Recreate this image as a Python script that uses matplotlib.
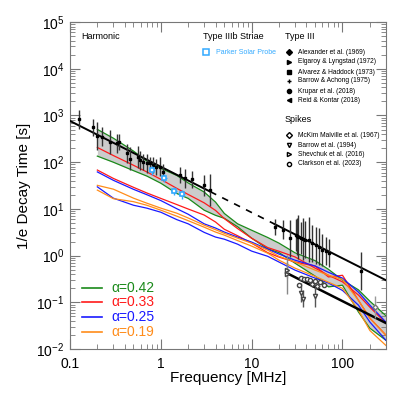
import numpy as np
import matplotlib.pyplot as plt
from matplotlib.ticker import LogLocator, NullFormatter, FuncFormatter, FixedLocator

plt.rcParams['font.family'] = ['Liberation Sans', 'DejaVu Sans']
plt.rcParams['mathtext.fontset'] = 'custom'
plt.rcParams['mathtext.rm'] = 'Liberation Sans'
plt.rcParams['mathtext.it'] = 'Liberation Sans:italic'

# simulated decay times (upper / lower bound for each alpha)
freq_model = [0.2, 0.3, 0.5, 0.7, 1, 1.5, 2, 3, 4, 5, 7, 10, 15, 20, 30, 50, 70, 100, 150, 200, 300]
green_hi = [504, 327, 173, 106, 74, 52, 36, 23, 14, 8.0, 4.8, 3.5, 2.45, 1.85, 1.15, 0.78, 0.51, 0.30, 0.185, 0.106, 0.052]
green_lo = [135, 100, 66, 50.6, 35.5, 21.4, 16.8, 9.4, 7.3, 6.3, 4.16, 2.36, 1.40, 1.16, 0.69, 0.364, 0.215, 0.233, 0.062, 0.028, 0.0155]
red_hi = [207, 139, 86, 62, 43, 27.5, 20.4, 13.5, 9.3, 6.2, 3.8, 2.36, 1.49, 1.24, 0.94, 0.54, 0.38, 0.275, 0.143, 0.079, 0.036]
red_lo = [68, 45, 29, 22, 16.8, 12.4, 9.96, 7.4, 5.25, 3.67, 2.67, 1.85, 1.16, 0.93, 0.73, 0.60, 0.35, 0.38, 0.11, 0.046, 0.02]
blue_hi = [62, 41, 26.3, 20.2, 15.1, 10.1, 7.7, 4.8, 3.9, 3.2, 2.5, 1.95, 1.38, 1.08, 0.80, 0.60, 0.44, 0.33, 0.165, 0.087, 0.038]
blue_lo = [29.7, 17, 12, 10.4, 8.5, 5.9, 4.8, 3.15, 2.5, 2.25, 1.76, 1.25, 0.97, 0.73, 0.49, 0.33, 0.26, 0.18, 0.087, 0.038, 0.0155]
orange_hi = [32, 26.5, 17, 13.3, 10.4, 8.1, 6.4, 4.5, 3.6, 3.0, 2.37, 1.85, 1.31, 0.97, 0.73, 0.49, 0.38, 0.31, 0.11, 0.046, 0.02]
orange_lo = [25.3, 16.6, 14.3, 12, 9.4, 7.0, 5.6, 4.07, 3.2, 2.75, 2.1, 1.6, 1.13, 0.80, 0.54, 0.36, 0.27, 0.20, 0.068, 0.025, 0.012]

alpha_labels = ['α=0.42', 'α=0.33', 'α=0.25', 'α=0.19']
alpha_colors = ['#1a8a1a', '#ff1a1a', '#1a1aff', '#ff8c1a']

# Type III observations (low and high frequency)
t3_freq = [0.126, 0.178, 0.198, 0.226, 0.275, 0.326, 0.348, 0.420, 0.456, 0.563, 0.588, 0.638,
           0.697, 0.757, 0.822, 0.894, 0.977, 1.06, 1.62, 1.84, 2.22, 2.97, 3.48]
t3_time = [838, 556, 362, 350, 274, 253, 274, 154, 120, 131, 111, 102,
           94, 94, 87, 80, 80, 62, 53, 45, 43, 32, 25.3]
t3_err = [1.6, 1.5, 2.0, 1.6, 1.8, 1.6, 1.5, 1.6, 1.8, 1.7, 1.6, 1.5,
          1.6, 1.4, 1.5, 1.5, 1.6, 1.5, 1.5, 1.6, 1.5, 1.7, 2.2]
t3h_freq = [18.0, 21.9, 26.2, 30.4, 31.5, 32.6, 34.5, 36.5, 39.0, 42.6, 46.4, 50.7, 55.0, 59.8, 65.1, 70.7, 158]
t3h_time = [4.1, 3.6, 2.33, 2.75, 2.6, 2.5, 2.37, 2.26, 2.2, 2.2, 1.82, 1.68, 1.54, 1.31, 1.27, 1.15, 0.47]
t3h_err = [1.5, 1.6, 2.5, 2.2, 2.5, 3.0, 2.2, 2.8, 2.5, 3.0, 2.5, 2.5, 2.5, 2.2, 2.0, 2.0, 2.6]
elg_freq = [230]
elg_time = [0.08]

# Parker Solar Probe striae
psp_freq = [0.80, 1.09, 1.40, 1.69]
psp_time = [67.6, 46, 24.4, 20.7]

# spikes
shev_freq = [24.3, 24.8]
shev_time = [0.49, 0.40]
clark_freq = [33, 34.6, 37.5, 40.5, 43.9, 50, 56, 63]
clark_time = [0.23, 0.34, 0.32, 0.31, 0.30, 0.28, 0.27, 0.23]
barrow_freq = [34.6, 36.5, 49.5]
barrow_time = [0.16, 0.12, 0.14]
mckim_freq = [46, 52]
mckim_time = [0.25, 0.22]

# power law fits: t = amp * (f / f0)^index
fit3_amp, fit3_f0, fit3_idx = 80.0, 1.0, -0.98
fitsp_amp, fitsp_f0, fitsp_idx = 0.43, 24.0, -0.98

fig = plt.figure(figsize=(4.07, 3.94), dpi=100)
ax = fig.add_axes([0.172, 0.114, 0.776, 0.830])
ax.set_xscale('log')
ax.set_yscale('log')
ax.set_xlim(0.1, 300)
ax.set_ylim(1e-2, 1e5)

fm = np.array(freq_model)
ax.fill_between(fm, green_lo, green_hi, color='#cccccc', lw=0, zorder=1)
curves = [(green_hi, green_lo), (red_hi, red_lo), (blue_hi, blue_lo), (orange_hi, orange_lo)]
for (hi, lo), c in zip(curves, alpha_colors):
    ax.plot(fm, hi, color=c, lw=0.9, zorder=2)
    ax.plot(fm, lo, color=c, lw=0.9, zorder=2)

# fits
f1 = np.logspace(np.log10(0.1), np.log10(3.5), 50)
f2 = np.logspace(np.log10(3.5), np.log10(18), 50)
f3 = np.logspace(np.log10(18), np.log10(300), 50)
fit3 = lambda f: fit3_amp * (f / fit3_f0) ** fit3_idx
ax.plot(f1, fit3(f1), color='k', lw=1.4, zorder=4)
ax.plot(f2, fit3(f2), color='k', lw=1.2, ls=(0, (4, 4)), zorder=4)
ax.plot(f3, fit3(f3), color='k', lw=1.4, zorder=4)
fs = np.logspace(np.log10(24), np.log10(300), 50)
ax.plot(fs, fitsp_amp * (fs / fitsp_f0) ** fitsp_idx, color='k', lw=1.8, zorder=4)

def errs(t, e):
    t = np.array(t)
    e = np.array(e)
    return [t - t / e, t * e - t]

ax.errorbar(t3_freq, t3_time, yerr=errs(t3_time, t3_err), fmt='s', ms=2, color='k',
            ecolor='#333333', elinewidth=1, capsize=0, zorder=5)
ax.errorbar(t3h_freq, t3h_time, yerr=errs(t3h_time, t3h_err), fmt='s', ms=2, color='k',
            ecolor='#333333', elinewidth=1, capsize=0, zorder=5)
ax.errorbar(elg_freq, elg_time, yerr=errs(elg_time, [1.7]), fmt='D', ms=2.5, mfc='white', mec='#777777',
            ecolor='#999999', elinewidth=1, capsize=0, zorder=5)

ax.errorbar(psp_freq, psp_time, xerr=np.array(psp_freq) * 0.08, yerr=np.array(psp_time) * 0.2,
            fmt='s', ms=3.5, mfc='white', mec='#33aaff', mew=1.2, ecolor='#33aaff', elinewidth=1,
            capsize=0, zorder=6)

ax.errorbar(shev_freq, shev_time, yerr=errs(shev_time, [1.5, 2.6]), fmt='>', ms=3, mfc='white',
            mec='#444444', ecolor='#888888', elinewidth=1, capsize=0, zorder=5)
ax.errorbar(barrow_freq, barrow_time, yerr=errs(barrow_time, [1.6, 1.5, 1.8]), fmt='v', ms=3,
            mfc='white', mec='#444444', ecolor='#555555', elinewidth=1, capsize=0, zorder=5)
ax.plot(mckim_freq, mckim_time, 'D', ms=2.5, mfc='white', mec='#444444', zorder=5)
ax.plot(clark_freq, clark_time, 'o', ms=3, mfc='white', mec='#444444', zorder=5)

# axes styling
ax.xaxis.set_major_locator(FixedLocator([0.1, 1, 10, 100]))
ax.xaxis.set_major_formatter(FuncFormatter(lambda v, p: '%g' % v))
ax.xaxis.set_minor_locator(LogLocator(base=10, subs=np.arange(2, 10)))
ax.xaxis.set_minor_formatter(NullFormatter())
ax.yaxis.set_major_locator(LogLocator(base=10, numticks=10))
ax.yaxis.set_major_formatter(FuncFormatter(lambda v, p: r'$10^{%d}$' % round(np.log10(v))))
ax.yaxis.set_minor_locator(LogLocator(base=10, subs=np.arange(2, 10), numticks=20))
ax.yaxis.set_minor_formatter(NullFormatter())
ax.tick_params(which='both', direction='in', top=True, right=True, colors='#777777',
               labelcolor='k', labelsize=10)
ax.tick_params(axis='x', which='major', pad=6)
ax.tick_params(axis='y', which='major', pad=4)
ax.tick_params(which='major', length=7, width=0.8)
ax.tick_params(which='minor', length=3.5, width=0.6)
for s in ax.spines.values():
    s.set_color('#777777')
    s.set_linewidth(0.8)
ax.set_xlabel('Frequency [MHz]', fontsize=11, labelpad=0)
ax.set_ylabel('1/e Decay Time [s]', fontsize=11, labelpad=4)

# annotations and legends
ax.text(0.035, 0.957, 'Harmonic', transform=ax.transAxes, fontsize=6.5, va='center')
ax.text(0.421, 0.957, 'Type IIIb Striae', transform=ax.transAxes, fontsize=6.5, va='center')
ax.plot([0.430], [0.908], 's', ms=4, mfc='white', mec='#33aaff', mew=1.1, transform=ax.transAxes)
ax.text(0.463, 0.908, 'Parker Solar Probe', transform=ax.transAxes, fontsize=5, va='center',
        color='#33aaff')

ax.text(0.680, 0.957, 'Type III', transform=ax.transAxes, fontsize=6.5, va='center')
t3_names = ['Alexander et al. (1969)', 'Elgaroy & Lyngstad (1972)', 'Alvarez & Haddock (1973)',
            'Barrow & Achong (1975)', 'Krupar et al. (2018)', 'Reid & Kontar (2018)']
t3_marks = ['D', '>', 's', '+', 'o', '<']
t3_rows = [0.908, 0.878, 0.847, 0.820, 0.789, 0.761]
for name, m, yy in zip(t3_names, t3_marks, t3_rows):
    ax.plot([0.693], [yy], m, ms=3, color='k', mew=1, transform=ax.transAxes)
    ax.text(0.722, yy, name, transform=ax.transAxes, fontsize=4.8, va='center')

ax.text(0.680, 0.703, 'Spikes', transform=ax.transAxes, fontsize=6.5, va='center')
sp_names = ['McKim Malville et al. (1967)', 'Barrow et al. (1994)', 'Shevchuk et al. (2016)',
            'Clarkson et al. (2023)']
sp_marks = ['D', 'v', '>', 'o']
sp_rows = [0.654, 0.624, 0.596, 0.566]
for name, m, yy in zip(sp_names, sp_marks, sp_rows):
    ax.plot([0.693], [yy], m, ms=3, mfc='white', mec='k', mew=1, transform=ax.transAxes)
    ax.text(0.722, yy, name, transform=ax.transAxes, fontsize=4.8, va='center')

leg_rows = [0.187, 0.144, 0.098, 0.052]
for lab, c, yy in zip(alpha_labels, alpha_colors, leg_rows):
    ax.plot([0.038, 0.101], [yy, yy], color=c, lw=1.2, transform=ax.transAxes)
    ax.text(0.130, yy, lab, transform=ax.transAxes, fontsize=10, va='center', color=c)

fig.savefig('out.png', dpi=100)
